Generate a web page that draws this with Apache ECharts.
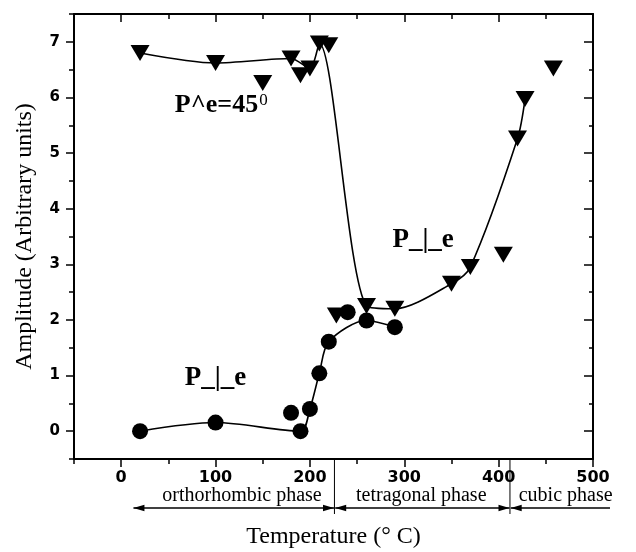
<!DOCTYPE html>
<html><head><meta charset="utf-8">
<script src="https://cdn.jsdelivr.net/npm/echarts@6/dist/echarts.min.js"></script>
<style>html,body{margin:0;padding:0;background:#fff}#c{width:636px;height:552px}</style>
</head><body><div id="c"></div>
<script>
// ---- data ----
const tempTri = [20, 100, 150, 180, 190, 200, 210, 220, 228, 260, 290, 350, 370, 405, 420, 428, 458];
const ampTri  = [6.8, 6.62, 6.26, 6.7, 6.4, 6.52, 6.97, 6.94, 2.08, 2.25, 2.2, 2.65, 2.95, 3.17, 5.26, 5.97, 6.52];
const tempCirc = [20, 100, 180, 190, 200, 210, 220, 240, 260, 290];
const ampCirc  = [0, 0.155, 0.33, 0.0, 0.4, 1.04, 1.61, 2.14, 1.99, 1.87];
// points the guide curves pass through (indices into the arrays above)
const triCurveIdx = [0, 1, 3, 5, 6, 9, 10, 11, 12, 14, 15];
const circCurveIdx = [0, 1, 3, 4, 5, 6, 8, 9];
const xTickValues = [0, 100, 200, 300, 400, 500];
const yTickValues = [0, 1, 2, 3, 4, 5, 6, 7];
const phaseNames = ['orthorhombic phase', 'tetragonal phase', 'cubic phase'];
const phaseBounds = [13, 226, 412, 518]; // temperatures

const serif = '"Liberation Serif", "Times New Roman", serif';
const sans = '"DejaVu Sans", sans-serif';
const K = '#000';

const triPts = tempTri.map((t, i) => [t, ampTri[i]]);
const circPts = tempCirc.map((t, i) => [t, ampCirc[i]]);
const triCurve = triCurveIdx.map(i => triPts[i]);
const circCurve = circCurveIdx.map(i => circPts[i]);

const chart = echarts.init(document.getElementById('c'), null, {renderer: 'canvas'});
const lineW = 2;
const tickStyle = {color: K, width: 1.5};
const baseX = {type: 'value', min: -50, max: 500, splitLine: {show: false}};
const baseY = {type: 'value', min: -0.5, max: 7.5, splitLine: {show: false}};

chart.setOption({
  animation: false,
  backgroundColor: '#fff',
  grid: {left: 74, right: 43, top: 14, bottom: 93, containLabel: false, outerBoundsMode: 'none'},
  xAxis: [
    Object.assign({}, baseX, {position: 'bottom', interval: 50,
      axisLine: {show: true, onZero: false, lineStyle: {color: K, width: lineW}},
      axisTick: {show: true, inside: false, length: 5, lineStyle: tickStyle},
      axisLabel: {show: false}}),
    Object.assign({}, baseX, {position: 'bottom',
      axisLine: {show: false, onZero: false},
      axisTick: {show: true, inside: false, length: 8, customValues: xTickValues, lineStyle: tickStyle},
      axisLabel: {show: true, customValues: xTickValues, fontFamily: sans, fontWeight: 'bold', fontSize: 16, color: K, margin: 11},
      name: 'Temperature (° C)', nameLocation: 'middle', nameGap: 66,
      nameTextStyle: {fontFamily: serif, fontSize: 24, color: K}}),
    Object.assign({}, baseX, {position: 'top', interval: 50,
      axisLine: {show: true, onZero: false, lineStyle: {color: K, width: lineW}},
      axisTick: {show: true, inside: true, length: 5, lineStyle: tickStyle},
      axisLabel: {show: false}}),
    Object.assign({}, baseX, {position: 'top',
      axisLine: {show: false, onZero: false},
      axisTick: {show: true, inside: true, length: 8, customValues: xTickValues, lineStyle: tickStyle},
      axisLabel: {show: false}})
  ],
  yAxis: [
    Object.assign({}, baseY, {position: 'left', interval: 0.5,
      axisLine: {show: true, onZero: false, lineStyle: {color: K, width: lineW}},
      axisTick: {show: true, inside: false, length: 5, lineStyle: tickStyle},
      axisLabel: {show: false}}),
    Object.assign({}, baseY, {position: 'left',
      axisLine: {show: false, onZero: false},
      axisTick: {show: true, inside: false, length: 8, customValues: yTickValues, lineStyle: tickStyle},
      axisLabel: {show: true, customValues: yTickValues, fontFamily: sans, fontWeight: 'bold', fontSize: 15, color: K, margin: 14},
      name: 'Amplitude (Arbitrary units)', nameLocation: 'middle', nameGap: 37,
      nameTextStyle: {fontFamily: serif, fontSize: 24, color: K}}),
    Object.assign({}, baseY, {position: 'right', interval: 0.5,
      axisLine: {show: true, onZero: false, lineStyle: {color: K, width: lineW}},
      axisTick: {show: true, inside: true, length: 4, lineStyle: tickStyle},
      axisLabel: {show: false}}),
    Object.assign({}, baseY, {position: 'right',
      axisLine: {show: false, onZero: false},
      axisTick: {show: true, inside: true, length: 9, customValues: yTickValues, lineStyle: tickStyle},
      axisLabel: {show: false}})
  ],
  series: [
    {type: 'line', name: 'triCurve', data: triCurve, xAxisIndex: 0, yAxisIndex: 0,
      smooth: 0.28, showSymbol: false, symbol: 'none', z: 1,
      lineStyle: {color: K, width: 1.6}},
    {type: 'line', name: 'circCurve', data: circCurve, xAxisIndex: 0, yAxisIndex: 0,
      smooth: 0.3, showSymbol: false, symbol: 'none', z: 1,
      lineStyle: {color: K, width: 1.6}},
    {type: 'scatter', name: 'P^e=45', data: triPts, xAxisIndex: 0, yAxisIndex: 0,
      symbol: 'triangle', symbolRotate: 180, symbolSize: [19, 16], z: 3,
      itemStyle: {color: K, opacity: 1}},
    {type: 'scatter', name: 'P_|_e', data: circPts, xAxisIndex: 0, yAxisIndex: 0,
      symbol: 'circle', symbolSize: 16, z: 3,
      itemStyle: {color: K, opacity: 1}}
  ]
});

// ---- annotations anchored to data coordinates ----
function px(t, a) { return chart.convertToPixel({xAxisIndex: 0, yAxisIndex: 0}, [t, a]); }
function xp(t) { return chart.convertToPixel({xAxisIndex: 0}, t); }
const axisBottom = px(0, -0.5)[1];
const arrowY = axisBottom + 49;
const labelY = axisBottom + 37;
const g = [];
function arrowHead(x, y, dir) {
  const L = 11, H = 3.2;
  return {type: 'polygon', shape: {points: [[x, y], [x - dir * L, y - H], [x - dir * L, y + H]]},
    style: {fill: K}, silent: true};
}
// separators
[phaseBounds[1], phaseBounds[2]].forEach(t => {
  const x = xp(t);
  g.push({type: 'line', shape: {x1: x, y1: axisBottom, x2: x, y2: axisBottom + 55},
    style: {stroke: K, lineWidth: 1}, silent: true});
});
// arrows
const ar = [
  [phaseBounds[0], phaseBounds[1] - 0.5, true, true],
  [phaseBounds[1] + 0.8, phaseBounds[2] - 0.5, true, true],
  [phaseBounds[2] + 0.8, phaseBounds[3], true, false]
];
ar.forEach(([a, b, la, ra]) => {
  const x1 = xp(a), x2 = xp(b);
  g.push({type: 'line', shape: {x1: x1, y1: arrowY, x2: x2, y2: arrowY},
    style: {stroke: K, lineWidth: 1.5}, silent: true});
  if (la) g.push(arrowHead(x1, arrowY, -1));
  if (ra) g.push(arrowHead(x2, arrowY, 1));
});
// phase labels
const phaseCenters = [128, 318, 471];
phaseNames.forEach((n, i) => {
  g.push({type: 'text', style: {text: n, x: xp(phaseCenters[i]), y: labelY, align: 'center', verticalAlign: 'middle',
    fontFamily: serif, fontSize: 20, fill: K}, silent: true});
});
// series labels
const p1 = px(106, 5.86), p2 = px(320, 3.43), p3 = px(100, 0.95);
g.push({type: 'text', style: {text: '{a|P^e=45}{s|0}', x: p1[0], y: p1[1], align: 'center', verticalAlign: 'middle',
  rich: {a: {fontFamily: serif, fontWeight: 'bold', fontSize: 26, fill: K, color: K},
         s: {fontFamily: serif, fontSize: 17, fill: K, color: K, verticalAlign: 'top', padding: [0, 0, 10, 1]}}}, silent: true});
[p2, p3].forEach(p => {
  g.push({type: 'text', style: {text: 'P_|_e', x: p[0], y: p[1], align: 'center', verticalAlign: 'middle',
    fontFamily: serif, fontWeight: 'bold', fontSize: 27, fill: K}, silent: true});
});
chart.setOption({graphic: g});
</script>
</body></html>
